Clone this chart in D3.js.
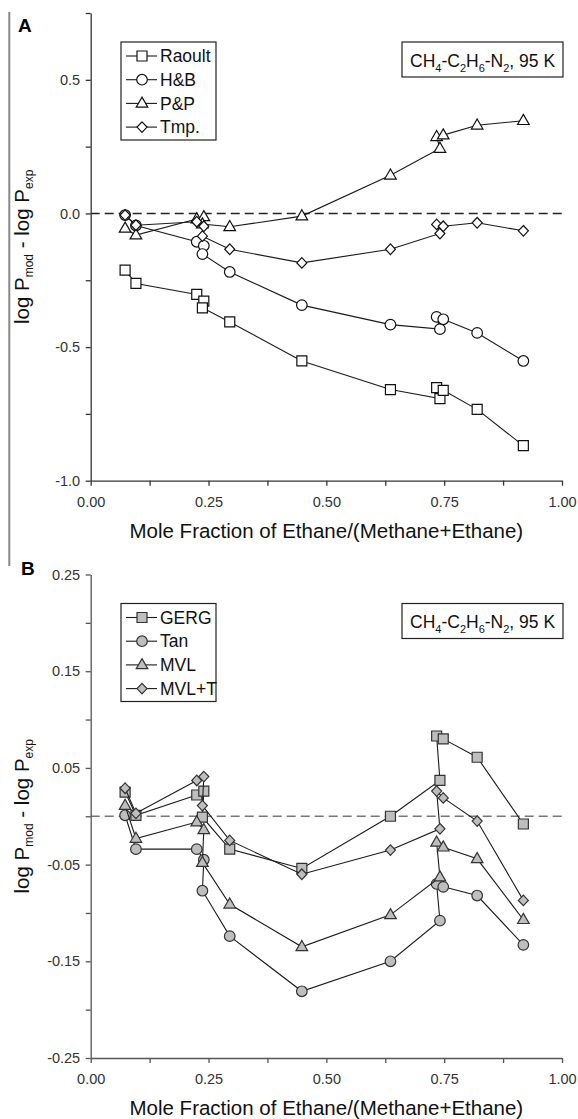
<!DOCTYPE html>
<html>
<head>
<meta charset="utf-8">
<script src="https://cdn.jsdelivr.net/npm/d3@7"></script>
<style>
body{margin:0;background:#fff;}
svg{display:block;font-family:"Liberation Sans",Arial,sans-serif;}
</style>
</head>
<body>
<div id="plot"></div>
<script>
//ethane fraction of each mixture, in the order the points are joined
var ethaneFrac = [0.073, 0.096, 0.225, 0.240, 0.237, 0.295, 0.448, 0.636, 0.741, 0.734, 0.748, 0.820, 0.918];

//panel A : log Pmod - log Pexp
var raoult = [-0.212, -0.262, -0.303, -0.328, -0.353, -0.406, -0.552, -0.659, -0.693, -0.652, -0.662, -0.733, -0.869];
var hb     = [-0.006, -0.045, -0.106, -0.121, -0.152, -0.219, -0.343, -0.416, -0.433, -0.387, -0.396, -0.447, -0.552];
var pp     = [-0.056, -0.081, -0.021, -0.013, -0.040, -0.050, -0.010, 0.143, 0.243, 0.287, 0.293, 0.330, 0.347];
var tmp    = [-0.006, -0.044, -0.031, -0.048, -0.085, -0.134, -0.185, -0.134, -0.075, -0.041, -0.048, -0.035, -0.065];
var namesA = ['Raoult', 'H&B', 'P&P', 'Tmp.'];

//panel B
var gerg = [0.025, 0.001, 0.022, 0.026, -0.001, -0.034, -0.054, 0.000, 0.037, 0.083, 0.080, 0.061, -0.008];
var tan  = [0.001, -0.034, -0.034, -0.045, -0.077, -0.124, -0.181, -0.150, -0.108, -0.070, -0.073, -0.082, -0.133];
var mvl  = [0.011, -0.023, -0.006, -0.014, -0.048, -0.091, -0.135, -0.102, -0.063, -0.027, -0.032, -0.044, -0.107];
var mvlT = [0.029, 0.003, 0.037, 0.041, 0.011, -0.025, -0.060, -0.035, -0.013, 0.026, 0.019, -0.005, -0.087];
var namesB = ['GERG', 'Tan', 'MVL', 'MVL+T'];

var shapes = ['square', 'circle', 'triangle', 'diamond'];

var xTicks = d3.range(0, 9).map(function(i){ return i/8; });
var yTicksA = d3.range(0, 8).map(function(i){ return -1 + i*0.25; });
var yTicksB = d3.range(0, 11).map(function(i){ return (-25 + i*5)/100; });

var svg = d3.select('#plot')
    .append('svg')
    .attr('width', 578)
    .attr('height', 1119);

svg.append('rect').attr('width', 578).attr('height', 1119).attr('fill', '#fff');

//frame line at the far left
svg.append('line')
    .attr('x1', 9.3).attr('x2', 9.3)
    .attr('y1', 12).attr('y2', 566)
    .attr('stroke', '#888').attr('stroke-width', 2);

var x = d3.scaleLinear().domain([0, 1]).range([90.7, 562]);

//marker outlines
function shapePath(type, cx, cy) {
    if (type == 'square') {
        return 'M' + (cx-5) + ',' + (cy-5) + 'h10v10h-10z';
    } else if (type == 'circle') {
        return 'M' + (cx-5.3) + ',' + cy + 'a5.3,5.3 0 1,0 10.6,0a5.3,5.3 0 1,0 -10.6,0z';
    } else if (type == 'triangle') {
        return 'M' + cx + ',' + (cy-6.3) + 'L' + (cx+5.8) + ',' + (cy+3.8) + 'L' + (cx-5.8) + ',' + (cy+3.8) + 'z';
    }
    return 'M' + cx + ',' + (cy-5.3) + 'L' + (cx+5) + ',' + cy + 'L' + cx + ',' + (cy+5.3) + 'L' + (cx-5) + ',' + cy + 'z';
}

function subText(sel, parts, size, subSize, shift) {
    //parts: [text, isSub]
    var prevSub = false;
    parts.forEach(function(p) {
        var t = sel.append('tspan').text(p[0]);
        if (p[1]) {
            t.attr('font-size', subSize).attr('dy', shift);
        } else {
            t.attr('font-size', size).attr('dy', prevSub ? -shift : 0);
        }
        prevSub = p[1];
    });
}

function drawPanel(p) {
    var g = svg.append('g');
    var y = p.y;

    //dashed zero line
    g.append('line')
        .attr('x1', x(0)).attr('x2', x(1))
        .attr('y1', y(0)).attr('y2', y(0))
        .attr('stroke', p.dash)
        .attr('stroke-width', 1.4)
        .attr('stroke-dasharray', '9,5');

    var xAxis = d3.axisBottom(x)
        .tickValues(xTicks)
        .tickSize(5).tickSizeOuter(0).tickPadding(11)
        .tickFormat(function(d){ return (d*4) % 1 === 0 ? d.toFixed(2) : ''; });
    var yAxis = d3.axisLeft(y)
        .tickValues(p.yTicks)
        .tickSize(5).tickSizeOuter(0).tickPadding(5.5)
        .tickFormat(p.yFormat);

    var gx = g.append('g').attr('transform', 'translate(0,' + y.range()[0] + ')').call(xAxis);
    var gy = g.append('g').attr('transform', 'translate(' + x(0) + ',0)').call(yAxis);
    [gx, gy].forEach(function(a) {
        a.attr('font-family', null).attr('font-size', 14.5);
        a.select('.domain').attr('stroke', p.axis).attr('stroke-width', 1.3);
        a.selectAll('.tick line').attr('stroke', p.axis).attr('stroke-width', 1.3);
        a.selectAll('.tick text').attr('fill', '#333');
    });

    //axis titles
    g.append('text')
        .attr('x', (x(0) + x(1)) / 2)
        .attr('y', y.range()[0] + p.titleDy)
        .attr('text-anchor', 'middle')
        .attr('font-size', 20.5)
        .attr('fill', '#111')
        .text('Mole Fraction of Ethane/(Methane+Ethane)');

    var yt = g.append('text')
        .attr('transform', 'translate(29,' + (y.range()[0] + y.range()[1]) / 2 + ') rotate(-90)')
        .attr('text-anchor', 'middle')
        .attr('fill', '#111');
    subText(yt, [['log P', false], ['mod', true], [' - log P', false], ['exp', true]], 20.5, 12, 4);

    //panel letter
    g.append('text')
        .attr('x', p.letterX).attr('y', p.letterY)
        .attr('font-size', 19).attr('font-weight', 'bold')
        .text(p.letter);

    //series
    p.series.forEach(function(vals, k) {
        var pts = vals.map(function(v, i){ return [x(ethaneFrac[i]), y(v)]; });
        g.append('path')
            .attr('d', d3.line()(pts))
            .attr('fill', 'none')
            .attr('stroke', '#1a1a1a')
            .attr('stroke-width', 1.1);
        g.selectAll(null)
            .data(pts)
            .enter()
            .append('path')
            .attr('d', function(d){ return shapePath(shapes[k], d[0], d[1]); })
            .attr('fill', p.fill)
            .attr('stroke', p.stroke)
            .attr('stroke-width', 1.2);
    });

    //legend
    var top = y.range()[1];
    var lx = 121, ly = top + 29;
    g.append('rect')
        .attr('x', lx).attr('y', ly)
        .attr('width', 95).attr('height', 98)
        .attr('fill', '#fff').attr('stroke', '#222').attr('stroke-width', 1.2);
    p.names.forEach(function(name, k) {
        var cy = ly + 14 + k*23.7;
        g.append('line')
            .attr('x1', lx + 5).attr('x2', lx + 36)
            .attr('y1', cy).attr('y2', cy)
            .attr('stroke', '#1a1a1a').attr('stroke-width', 1.1);
        g.append('path')
            .attr('d', shapePath(shapes[k], lx + 21, cy))
            .attr('fill', p.fill).attr('stroke', p.stroke).attr('stroke-width', 1.2);
        g.append('text')
            .attr('x', lx + 39).attr('y', cy + 6.2)
            .attr('font-size', 17.5).attr('fill', '#111')
            .text(name);
    });

    //conditions box
    g.append('rect')
        .attr('x', 402).attr('y', ly)
        .attr('width', 161).attr('height', 35)
        .attr('fill', '#fff').attr('stroke', '#222').attr('stroke-width', 1.2);
    var ct = g.append('text')
        .attr('x', 410).attr('y', ly + 24.5)
        .attr('fill', '#111');
    subText(ct, [['CH', false], ['4', true], ['-C', false], ['2', true], ['H', false], ['6', true],
        ['-N', false], ['2', true], [', 95 K', false]], 17.5, 11, 5);
}

drawPanel({
    letter: 'A', letterX: 18, letterY: 32,
    y: d3.scaleLinear().domain([-1, 0.75]).range([480.7, 13]),
    yTicks: yTicksA,
    yFormat: function(d){ return (d*2) % 1 === 0 ? d.toFixed(1) : ''; },
    series: [raoult, hb, pp, tmp],
    names: namesA,
    fill: '#fff', stroke: '#111',
    dash: '#222', axis: '#333',
    titleDy: 57.5
});

drawPanel({
    letter: 'B', letterX: 21, letterY: 575,
    y: d3.scaleLinear().domain([-0.25, 0.25]).range([1058, 574.5]),
    yTicks: yTicksB,
    yFormat: function(d){ return Math.round(d*100) % 10 !== 0 ? d.toFixed(2) : ''; },
    series: [gerg, tan, mvl, mvlT],
    names: namesB,
    fill: '#bebebe', stroke: '#333',
    dash: '#777', axis: '#555',
    titleDy: 57
});
</script>
</body>
</html>
